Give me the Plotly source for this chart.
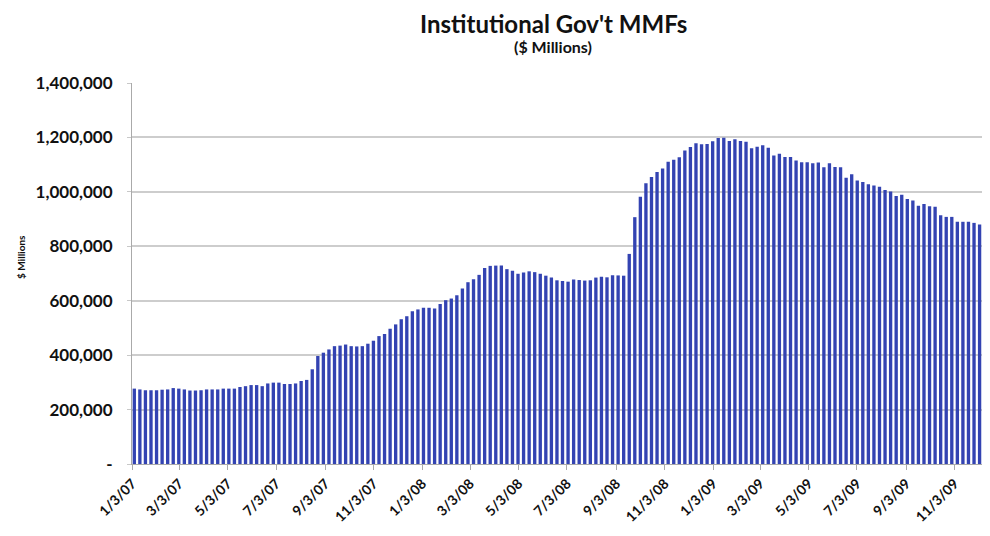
import pandas as pd
import plotly.graph_objects as go

# weekly assets, institutional government money market funds ($ millions)
start_week = "2007-01-03"
assets = [
    277000, 274000, 271000, 271000, 271000, 273000, 274000, 279000, 277000, 274000,
    270000, 270000, 271000, 274000, 274000, 274000, 277000, 277000, 277000, 283000,
    286000, 290000, 290000, 286000, 296000, 299000, 299000, 294000, 294000, 296000,
    305000, 309000, 348000, 397000, 409000, 421000, 433000, 435000, 439000, 433000,
    432000, 433000, 442000, 453000, 470000, 478000, 497000, 513000, 532000, 543000,
    561000, 568000, 574000, 574000, 571000, 588000, 602000, 608000, 620000, 645000,
    668000, 679000, 695000, 720000, 728000, 729000, 729000, 716000, 710000, 699000,
    704000, 708000, 705000, 699000, 692000, 685000, 675000, 672000, 670000, 678000,
    676000, 674000, 675000, 685000, 688000, 686000, 694000, 693000, 692000, 772000,
    907000, 982000, 1032000, 1055000, 1073000, 1086000, 1111000, 1118000, 1127000, 1152000,
    1165000, 1179000, 1175000, 1176000, 1186000, 1198000, 1199000, 1187000, 1193000, 1187000,
    1184000, 1160000, 1166000, 1171000, 1162000, 1134000, 1140000, 1128000, 1128000, 1115000,
    1109000, 1109000, 1105000, 1108000, 1090000, 1105000, 1091000, 1090000, 1052000, 1065000,
    1042000, 1036000, 1028000, 1023000, 1019000, 1007000, 1001000, 985000, 989000, 974000,
    968000, 949000, 955000, 947000, 945000, 914000, 908000, 908000, 890000, 890000,
    890000, 886000, 880000, 880000, 863000,
]
weeks = pd.date_range(start_week, periods=len(assets), freq="7D")

x_ticks = ["2007-01-03", "2007-03-03", "2007-05-03", "2007-07-03", "2007-09-03", "2007-11-03",
           "2008-01-03", "2008-03-03", "2008-05-03", "2008-07-03", "2008-09-03", "2008-11-03",
           "2009-01-03", "2009-03-03", "2009-05-03", "2009-07-03", "2009-09-03", "2009-11-03"]
x_labels = ["1/3/07", "3/3/07", "5/3/07", "7/3/07", "9/3/07", "11/3/07",
            "1/3/08", "3/3/08", "5/3/08", "7/3/08", "9/3/08", "11/3/08",
            "1/3/09", "3/3/09", "5/3/09", "7/3/09", "9/3/09", "11/3/09"]
y_ticks = [0, 200000, 400000, 600000, 800000, 1000000, 1200000, 1400000]
y_labels = ["-", "200,000", "400,000", "600,000", "800,000", "1,000,000", "1,200,000", "1,400,000"]

DAY_MS = 86400000
font = "Lato, 'Open Sans', sans-serif"

# the page body has an 8px margin, so the figure is sized and padded to fit the window
fig = go.Figure()
fig.add_trace(go.Bar(
    x=weeks, y=assets,
    width=4.2 * DAY_MS, offset=0.3 * DAY_MS,
    marker=dict(color="#3343b2", line=dict(width=0)),
))

fig.update_layout(
    width=982, height=528,
    margin=dict(l=124, r=0, t=75, b=72),
    paper_bgcolor="white", plot_bgcolor="white",
    showlegend=False,
    font=dict(family=font, color="#111"),
)
title_x = (553 - 132) / 858
fig.add_annotation(
    text="<b>Institutional Gov't MMFs</b>",
    xref="paper", yref="paper", x=title_x, y=1 + (83 - 23) / 381,
    xanchor="center", yanchor="middle", showarrow=False,
    font=dict(family=font, size=24, color="#111"),
)
fig.add_annotation(
    text="<b>($ Millions)</b>",
    xref="paper", yref="paper", x=title_x, y=1 + (83 - 47) / 381,
    xanchor="center", yanchor="middle", showarrow=False,
    font=dict(family=font, size=16, color="#111"),
)
fig.add_annotation(
    text="<b>$ Millions</b>", textangle=-90,
    xref="paper", yref="paper", x=(21 - 132) / 858, y=(464 - 257) / 381,
    xanchor="center", yanchor="middle", showarrow=False,
    font=dict(family=font, size=10, color="#111"),
)
fig.update_xaxes(
    type="date",
    range=["2007-01-02 12:00", "2009-12-17 12:00"],
    tickvals=x_ticks, ticktext=[f"<b>{t}</b>" for t in x_labels], tickangle=-45,
    tickfont=dict(family=font, size=14, color="#111"),
    ticks="outside", ticklen=5, tickcolor="#aaa",
    showline=True, linecolor="#aaa", linewidth=1,
    showgrid=False, zeroline=False, automargin=False,
)
fig.update_yaxes(
    range=[0, 1400000],
    tickvals=y_ticks, ticktext=[f"<b>{t}</b>" for t in y_labels],
    tickfont=dict(family=font, size=17, color="#111"),
    ticks="outside", ticklen=4, tickcolor="#c8c8c8", ticklabelstandoff=11,
    showline=True, linecolor="#aaa", linewidth=1,
    gridcolor="#cdcdcd", gridwidth=2, zeroline=False, automargin=False,
)

fig.write_html("out.html")
